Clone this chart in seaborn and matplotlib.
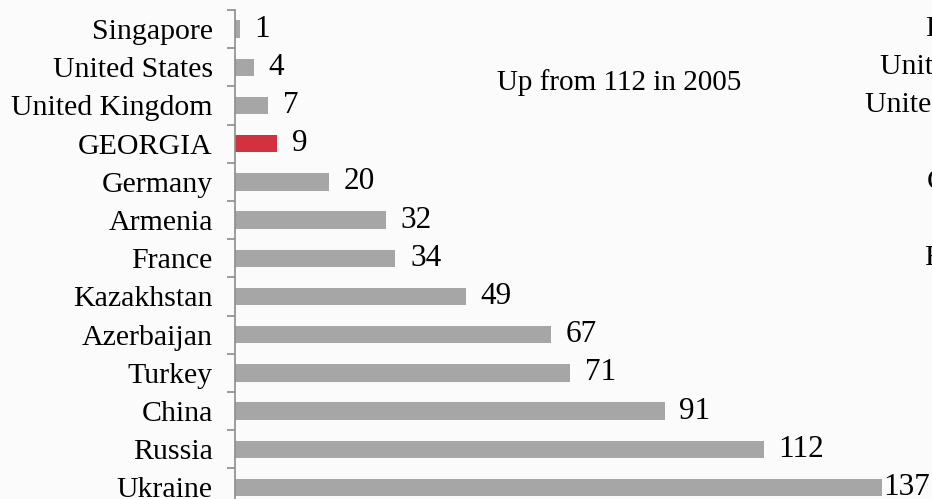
import numpy as np
import pandas as pd
import seaborn as sns
import matplotlib.pyplot as plt

countries = ["Singapore", "United States", "United Kingdom", "GEORGIA", "Germany",
             "Armenia", "France", "Kazakhstan", "Azerbaijan", "Turkey", "China",
             "Russia", "Ukraine"]
values = [1, 4, 7, 9, 20, 32, 34, 49, 67, 71, 91, 112, 137]
highlight = "GEORGIA"
note = "Up from 112 in 2005"
# fragments of the neighbouring chart, cut off by the right edge
side_labels = ["F", "United States", "United Kingdom", "GEORGIA", "France"]
side_rows = [0, 1, 2, 4, 6]
side_x = [925, 880, 865, 927, 924]

sns.set_theme(style="white")
plt.rcParams["font.family"] = ["Liberation Serif", "DejaVu Serif"]
plt.rcParams["text.color"] = "black"

df = pd.DataFrame({"country": countries, "value": values})
colors = {c: ("#d2323e" if c == highlight else "#a6a6a6") for c in countries}

W, H = 932, 499
fig = plt.figure(figsize=(W / 100, H / 100), dpi=100)
fig.patch.set_facecolor("#fbfbfb")
row_px = 38.2
top_px = 10
left_px = 235
ax_h = row_px * len(countries)
ax = fig.add_axes([left_px / W, 1 - (top_px + ax_h) / H, 1 - left_px / W, ax_h / H])
ax.set_facecolor("none")

sns.barplot(data=df, x="value", y="country", hue="country", palette=colors,
            orient="h", width=0.46, legend=False, ax=ax, saturation=1, linewidth=0)

ax.set_xlim(0, (W - left_px) / 4.72)
ax.set_ylim(len(countries) - 0.5, -0.5)
ax.set_xlabel("")
ax.set_ylabel("")
ax.set_xticks([])
sns.despine(ax=ax, top=True, right=True, bottom=True)
ax.spines["left"].set_color("#8c8c8c")
ax.spines["left"].set_linewidth(1.2)

ax.set_yticks(np.arange(len(countries)))
ax.set_yticklabels(countries, fontsize=21.5, color="black")
ax.tick_params(axis="y", which="major", length=0, pad=16)
ax.set_yticks(np.arange(len(countries) + 1) - 0.5, minor=True)
ax.tick_params(axis="y", which="minor", length=6, width=1.2, color="#8c8c8c", left=True)

for i, v in enumerate(values):
    off = 1.5 if i == len(values) - 1 else 10.5
    ax.annotate(str(v), xy=(v, i), xytext=(off, 0), textcoords="offset points",
                ha="left", va="center", fontsize=22.5, color="black",
                annotation_clip=False)

fig.text(497 / W, 1 - 83 / H, note, fontsize=21, ha="left", va="center", color="black")
for lab, r, x in zip(side_labels, side_rows, side_x):
    fig.text(x / W, 1 - (top_px + row_px * (r + 0.5)) / H, lab, fontsize=21.5,
             ha="left", va="center", color="black")

fig.savefig("out.png", dpi=100)
